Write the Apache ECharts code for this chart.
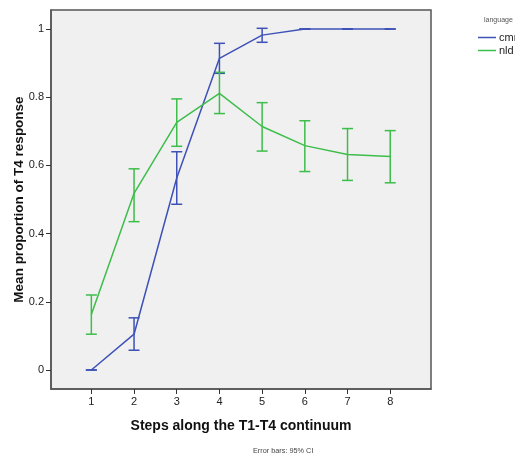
<!DOCTYPE html>
<html><head><meta charset="utf-8">
<script src="https://cdn.jsdelivr.net/npm/echarts@6/dist/echarts.min.js"></script>
<style>html,body{margin:0;padding:0;background:#fff}#c{width:515px;height:457px}</style>
</head><body><div id="c"></div>
<script>
var steps = [1,2,3,4,5,6,7,8];
var cmnMean = [0, 0.105, 0.563, 0.914, 0.982, 1.0, 1.0, 1.0];
var cmnLow  = [0, 0.058, 0.486, 0.870, 0.961, 1.0, 1.0, 1.0];
var cmnHigh = [0, 0.153, 0.640, 0.958, 1.002, 1.0, 1.0, 1.0];
var nldMean = [0.163, 0.518, 0.726, 0.811, 0.714, 0.658, 0.632, 0.626];
var nldLow  = [0.105, 0.435, 0.656, 0.752, 0.642, 0.582, 0.556, 0.549];
var nldHigh = [0.220, 0.590, 0.795, 0.873, 0.784, 0.731, 0.708, 0.702];
var yTicks = [0, 0.2, 0.4, 0.6, 0.8, 1];

var BLUE = '#3d51b6', GREEN = '#3dbd4a';
var FONT = 'Liberation Sans, Arial, sans-serif';

function pairs(m){ return steps.map(function(s,i){ return [s, m[i]]; }); }
function errData(lo, hi){ return steps.map(function(s,i){ return [s, lo[i], hi[i]]; }); }
function errSeries(name, lo, hi, color){
  return {
    type: 'custom', name: name, data: errData(lo, hi), z: 3,
    renderItem: function(params, api){
      var x = api.value(0);
      var a = api.coord([x, api.value(1)]);
      var b = api.coord([x, api.value(2)]);
      var w = 5.5;
      var st = {stroke: color, lineWidth: 1.5, fill: null};
      return {type: 'group', children: [
        {type: 'line', shape: {x1: a[0], y1: a[1], x2: b[0], y2: b[1]}, style: st},
        {type: 'line', shape: {x1: a[0]-w, y1: a[1], x2: a[0]+w, y2: a[1]}, style: st},
        {type: 'line', shape: {x1: b[0]-w, y1: b[1], x2: b[0]+w, y2: b[1]}, style: st}
      ]};
    }
  };
}

var chart = echarts.init(document.getElementById('c'), null, {renderer: 'canvas'});
chart.setOption({
  animation: false,
  textStyle: {fontFamily: FONT},
  grid: {left: 51, top: 10, right: 84, bottom: 68, show: true,
         backgroundColor: '#f0f0f0', borderColor: '#555', borderWidth: 1.5},
  graphic: [
    {type: 'text', left: 484, top: 17,
     style: {text: 'language', fontSize: 7, fill: '#555', fontFamily: FONT}},
    {type: 'text', left: 253, top: 447,
     style: {text: 'Error bars: 95% CI', fontSize: 7.3, fill: '#444', fontFamily: FONT}}
  ],
  legend: {
    orient: 'vertical', left: 478, top: 32, itemGap: 2, padding: 0,
    itemWidth: 18, itemHeight: 1.5, icon: 'rect',
    textStyle: {fontSize: 11, color: '#222', padding: [0,0,0,-2], fontFamily: FONT},
    data: [{name: 'cmn'}, {name: 'nld'}]
  },
  xAxis: {
    type: 'value', min: 0.055, max: 8.955,
    name: 'Steps along the T1-T4 continuum', nameLocation: 'middle', nameGap: 30,
    nameMoveOverlap: false,
    nameTextStyle: {fontSize: 14, fontWeight: 'bold', color: '#111', fontFamily: FONT},
    axisLine: {show: true, onZero: false, lineStyle: {color: '#555', width: 1.5}},
    splitLine: {show: false},
    axisTick: {show: true, length: 5, customValues: steps, lineStyle: {color: '#333', width: 1}},
    axisLabel: {customValues: steps, fontSize: 11, color: '#222', margin: 7}
  },
  yAxis: {
    type: 'value', min: -0.0557, max: 1.0557,
    name: 'Mean proportion of T4 response', nameLocation: 'middle', nameGap: 25,
    nameMoveOverlap: false,
    nameTextStyle: {fontSize: 13.5, fontWeight: 'bold', color: '#111', fontFamily: FONT},
    axisLine: {show: true, onZero: false, lineStyle: {color: '#555', width: 1.5}},
    splitLine: {show: false},
    axisTick: {show: true, length: 5, customValues: yTicks, lineStyle: {color: '#333', width: 1}},
    axisLabel: {customValues: yTicks, fontSize: 11, color: '#222', margin: 7}
  },
  series: [
    {name: 'cmn', type: 'line', data: pairs(cmnMean), showSymbol: false, symbol: 'none',
     lineStyle: {color: BLUE, width: 1.5}, itemStyle: {color: BLUE}, z: 4},
    {name: 'nld', type: 'line', data: pairs(nldMean), showSymbol: false, symbol: 'none',
     lineStyle: {color: GREEN, width: 1.5}, itemStyle: {color: GREEN}, z: 4},
    errSeries('cmn', cmnLow, cmnHigh, BLUE),
    errSeries('nld', nldLow, nldHigh, GREEN)
  ]
});
</script></body></html>
